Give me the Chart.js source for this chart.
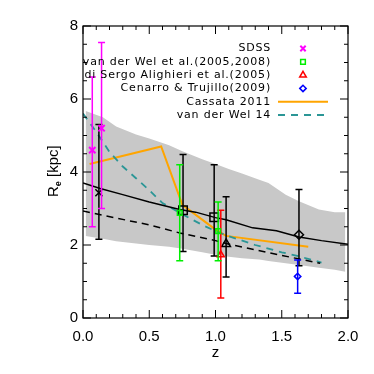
<!DOCTYPE html>
<html>
<head>
<meta charset="utf-8">
<script src="https://cdn.jsdelivr.net/npm/chart.js@4.4.1/dist/chart.umd.min.js"></script>
<style>
  html, body { margin: 0; padding: 0; background: #fff; }
</style>
</head>
<body>
<canvas id="myChart" width="374" height="374"></canvas>
<script>
// axis ticks
var xTickLabels = [0, 0.5, 1.0, 1.5, 2.0];
var yTickLabels = [0, 2, 4, 6, 8];

// grey band (model scatter)
var bandZ     = [0.02, 0.15, 0.25, 0.4, 0.5, 0.65, 0.75, 0.9, 1.0, 1.1, 1.2, 1.33, 1.4, 1.53, 1.63, 1.78, 1.9, 1.98];
var bandUpper = [5.67, 5.5, 5.25, 5.03, 4.92, 4.73, 4.57, 4.35, 4.22, 4.08, 3.96, 3.79, 3.7, 3.38, 3.2, 2.97, 2.9, 2.9];
var bandLower = [2.25, 2.17, 2.1, 2.04, 2.0, 1.95, 1.9, 1.8, 1.73, 1.68, 1.64, 1.6, 1.56, 1.5, 1.45, 1.38, 1.32, 1.27];

// black solid line (median)
var medZ  = [0, 0.13, 0.3, 0.5, 0.73, 0.85, 1.0, 1.08, 1.28, 1.46, 1.63, 1.8, 2.0];
var medRe = [3.7, 3.55, 3.38, 3.18, 2.97, 2.9, 2.75, 2.69, 2.47, 2.39, 2.22, 2.12, 2.02];

// black dashed line
var dashZ  = [0, 0.5, 0.73, 1.0, 1.08, 1.48, 1.79];
var dashRe = [2.93, 2.55, 2.33, 2.12, 2.04, 1.73, 1.5];

// van der Wel 14
var vdw14Z  = [0, 0.1, 0.2, 0.3, 0.4, 0.5, 0.6, 0.73, 0.9, 1.0, 1.1, 1.3, 1.5, 1.63, 1.8];
var vdw14Re = [5.6, 5.1, 4.55, 4.15, 3.83, 3.5, 3.15, 2.88, 2.55, 2.38, 2.24, 2.0, 1.8, 1.69, 1.52];

// Cassata 2011
var cassataZ  = [0.05, 0.59, 0.75, 1.0, 1.08, 1.7];
var cassataRe = [4.22, 4.7, 3.1, 2.42, 2.25, 1.95];

// observed points: z, Re, lower, upper
var sdssZ = [0.07, 0.14], sdssRe = [4.6, 5.2], sdssLo = [2.5, 3.0], sdssHi = [6.6, 7.55];
var vdwZ = [0.73, 1.02], vdwRe = [2.88, 2.38], vdwLo = [1.57, 1.57], vdwHi = [4.2, 3.18];
var disZ = [1.04], disRe = [1.73], disLo = [0.55], disHi = [2.95];
var cenZ = [1.62], cenRe = [1.14], cenLo = [0.68], cenHi = [1.59];

// black model points
var bXZ = [0.12], bXRe = [3.43], bXLo = [2.16], bXHi = [5.3];
var bSqZ = [0.755, 0.99], bSqRe = [2.95, 2.76], bSqLo = [1.82, 1.7], bSqHi = [4.48, 4.2];
var bTrZ = [1.08], bTrRe = [2.03], bTrLo = [1.12], bTrHi = [3.32];
var bDiZ = [1.63], bDiRe = [2.28], bDiLo = [1.43], bDiHi = [3.52];

var legendLabels = ["SDSS", "van der Wel et al.(2005,2008)", "di Sergo Alighieri et al.(2005)",
    "Cenarro & Trujillo(2009)", "Cassata 2011", "van der Wel 14"];

var FONT = "'Liberation Sans', Arial, Helvetica, sans-serif";

function xy(zs, vs) {
    return zs.map(function (z, i) { return { x: z, y: vs[i] }; });
}

function lineSet(label, zs, vs, color, width, dash) {
    return {
        label: label, data: xy(zs, vs), showLine: true, borderColor: color, borderWidth: width,
        borderDash: dash || [], pointRadius: 0, fill: false, tension: 0, order: 5
    };
}

function pointSet(label, zs, vs, lo, hi, color, style, radius, width) {
    return {
        label: label, data: xy(zs, vs), showLine: false, borderColor: color, backgroundColor: 'rgba(0,0,0,0)',
        pointStyle: style, pointRadius: radius, pointBorderWidth: width || 1.5, errLo: lo, errHi: hi, order: 0
    };
}

var datasets = [
    { label: 'bandUp', data: xy(bandZ, bandUpper), showLine: true, borderWidth: 0, borderColor: 'rgba(0,0,0,0)',
      pointRadius: 0, fill: false, order: 10 },
    { label: 'bandLo', data: xy(bandZ, bandLower), showLine: true, borderWidth: 0, borderColor: 'rgba(0,0,0,0)',
      backgroundColor: '#c8c8c8', pointRadius: 0, fill: '-1', order: 10 },
    lineSet('median', medZ, medRe, '#000000', 1.5),
    lineSet('dashed', dashZ, dashRe, '#000000', 1.5, [7, 5]),
    lineSet(legendLabels[5], vdw14Z, vdw14Re, '#2b9696', 1.8, [7, 6]),
    lineSet(legendLabels[4], cassataZ, cassataRe, '#ffa500', 2),
    pointSet(legendLabels[0], sdssZ, sdssRe, sdssLo, sdssHi, '#ff00ff', 'crossRot', 4.5, 2),
    pointSet(legendLabels[1], vdwZ, vdwRe, vdwLo, vdwHi, '#00ee00', 'rect', 3.3, 1.5),
    pointSet(legendLabels[2], disZ, disRe, disLo, disHi, '#ff0000', 'triangle', 4, 1.5),
    pointSet(legendLabels[3], cenZ, cenRe, cenLo, cenHi, '#0000ff', 'rectRot', 3.2, 1.5),
    pointSet('bX', bXZ, bXRe, bXLo, bXHi, '#000000', 'crossRot', 5, 1.5),
    pointSet('bSq', bSqZ, bSqRe, bSqLo, bSqHi, '#000000', 'rect', 6, 1.5),
    pointSet('bTr', bTrZ, bTrRe, bTrLo, bTrHi, '#000000', 'triangle', 5, 1.5),
    pointSet('bDi', bDiZ, bDiRe, bDiLo, bDiHi, '#000000', 'rectRot', 4.5, 1.5)
];

var framePlugin = {
    id: 'frame',
    beforeDatasetDraw: function (chart, args) {
        // error bars go just under their markers
        var ds = chart.data.datasets[args.index];
        if (!ds.errLo) return;
        var ctx = chart.ctx, xs = chart.scales.x, ys = chart.scales.y;
        ctx.save();
        ctx.strokeStyle = ds.borderColor;
        ctx.lineWidth = 1.5;
        ds.data.forEach(function (p, i) {
            var px = xs.getPixelForValue(p.x);
            var top = ys.getPixelForValue(ds.errHi[i]);
            var bot = ys.getPixelForValue(ds.errLo[i]);
            ctx.beginPath();
            ctx.moveTo(px, top); ctx.lineTo(px, bot);
            ctx.moveTo(px - 3.5, top); ctx.lineTo(px + 3.5, top);
            ctx.moveTo(px - 3.5, bot); ctx.lineTo(px + 3.5, bot);
            ctx.stroke();
        });
        ctx.restore();
    },
    afterDraw: function (chart) {
        var ctx = chart.ctx, a = chart.chartArea, xs = chart.scales.x, ys = chart.scales.y;
        ctx.save();
        ctx.strokeStyle = '#000';
        ctx.lineWidth = 1.2;
        ctx.strokeRect(a.left, a.top, a.right - a.left, a.bottom - a.top);

        // inward ticks on all four sides
        ctx.lineWidth = 1;
        ctx.beginPath();
        var v, px, len;
        for (v = 0; v <= 20; v++) {
            px = xs.getPixelForValue(v / 10);
            len = (v % 5 === 0) ? 8 : 4;
            ctx.moveTo(px, a.bottom); ctx.lineTo(px, a.bottom - len);
            ctx.moveTo(px, a.top); ctx.lineTo(px, a.top + len);
        }
        for (v = 0; v <= 16; v++) {
            px = ys.getPixelForValue(v / 2);
            len = (v % 4 === 0) ? 8 : 4;
            ctx.moveTo(a.left, px); ctx.lineTo(a.left + len, px);
            ctx.moveTo(a.right, px); ctx.lineTo(a.right - len, px);
        }
        ctx.stroke();

        // y title with subscript e
        ctx.save();
        ctx.translate(58, 197);
        ctx.rotate(-Math.PI / 2);
        ctx.fillStyle = '#000';
        ctx.textAlign = 'left';
        ctx.textBaseline = 'alphabetic';
        ctx.font = '15px ' + FONT;
        ctx.fillText('R', 0, 0);
        var w = ctx.measureText('R').width;
        ctx.font = 'bold 9px ' + FONT;
        ctx.fillText('e', w, 3);
        w += ctx.measureText('e').width;
        ctx.font = '15px ' + FONT;
        ctx.fillText(' [kpc]', w, 0);
        ctx.restore();

        // legend
        var textRight = 271, symX = 303, y0 = 48.5, dy = 13.3;
        ctx.font = "11px 'DejaVu Sans', sans-serif";
        ctx.letterSpacing = '0.8px';
        ctx.textAlign = 'right';
        ctx.textBaseline = 'middle';
        legendLabels.forEach(function (lab, i) {
            var y = y0 + i * dy;
            ctx.fillStyle = '#000';
            ctx.fillText(lab, textRight, y);
            var ds = chart.data.datasets.find(function (d) { return d.label === lab; });
            if (!ds) return;
            ctx.strokeStyle = ds.borderColor;
            if (ds.showLine) {
                ctx.lineWidth = ds.borderWidth;
                ctx.setLineDash(ds.borderDash);
                ctx.beginPath();
                ctx.moveTo(278, y); ctx.lineTo(328, y);
                ctx.stroke();
                ctx.setLineDash([]);
            } else {
                ctx.lineWidth = ds.pointBorderWidth;
                ctx.fillStyle = 'rgba(0,0,0,0)';
                Chart.helpers.drawPoint(ctx, {
                    pointStyle: ds.pointStyle, rotation: 0,
                    radius: Math.min(ds.pointRadius, 3.8), borderWidth: ds.pointBorderWidth
                }, symX, y);
            }
        });
        ctx.restore();
    }
};

var chart = new Chart(document.getElementById('myChart'), {
    type: 'scatter',
    data: { datasets: datasets },
    plugins: [framePlugin],
    options: {
        responsive: false,
        animation: false,
        devicePixelRatio: 1,
        layout: { padding: { top: 26, right: 26, left: 0, bottom: 0 } },
        plugins: { legend: { display: false }, tooltip: { enabled: false } },
        scales: {
            x: {
                type: 'linear', min: 0, max: 2,
                afterFit: function (s) { s.height = 56; },
                afterBuildTicks: function (s) { s.ticks = xTickLabels.map(function (v) { return { value: v }; }); },
                grid: { display: false, drawTicks: false },
                border: { display: false },
                ticks: {
                    padding: 10, color: '#000', font: { family: FONT, size: 15 },
                    callback: function (v) { return Number(v).toFixed(1); }
                },
                title: { display: true, text: 'z', color: '#000', font: { family: FONT, size: 15 },
                         padding: { top: 0, bottom: 12 } }
            },
            y: {
                type: 'linear', min: 0, max: 8,
                afterFit: function (s) { s.width = 83; },
                afterBuildTicks: function (s) { s.ticks = yTickLabels.map(function (v) { return { value: v }; }); },
                grid: { display: false, drawTicks: false },
                border: { display: false },
                ticks: { padding: 5, color: '#000', font: { family: FONT, size: 15 } },
                title: { display: false }
            }
        }
    }
});
</script>
</body>
</html>
